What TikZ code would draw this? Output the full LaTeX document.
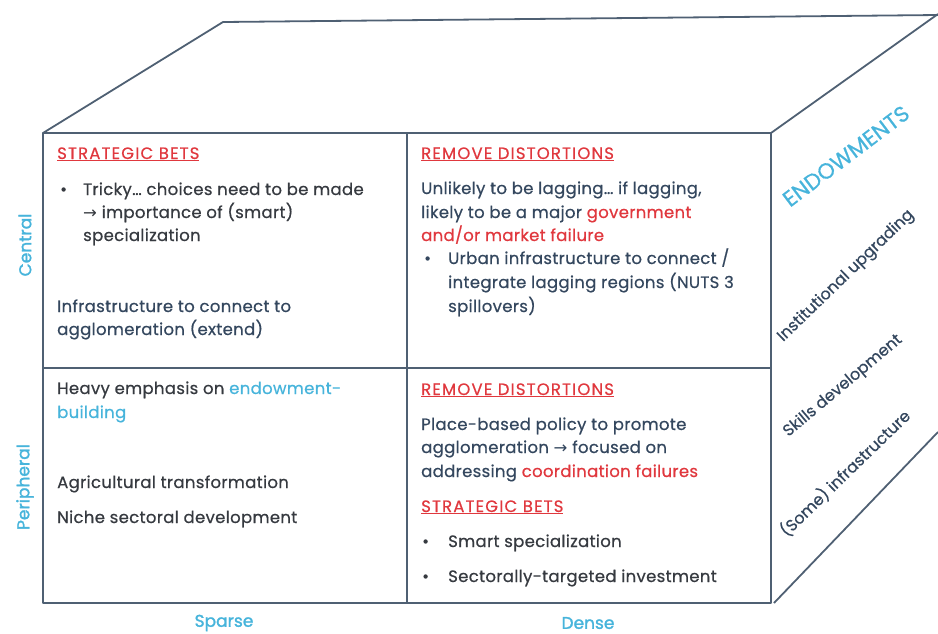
\documentclass[tikz,border=0pt]{standalone}
\usepackage{fontspec}
\setmainfont{Poppins}[FakeBold=0.6,LetterSpace=2]
\newfontfamily\heavyfont{Poppins}[FakeBold=1.6]
\newfontfamily\headfont{Poppins}[FakeBold=0.6,LetterSpace=7]
\newfontfamily\sidefont{Poppins}[FakeBold=0.6]
\newfontfamily\arrowfont{DejaVu Sans}
\definecolor{ink}{HTML}{363A40}
\definecolor{slate}{HTML}{34475E}
\definecolor{hred}{HTML}{E0383E}
\definecolor{hcyan}{HTML}{47B4DB}
\definecolor{edge}{HTML}{4F6073}
\newcommand{\rarr}{{\arrowfont →}}
\begin{document}
\begin{tikzpicture}[x=1pt,y=-1pt,
  txt/.style={anchor=base west, inner sep=0pt, font=\fontsize{16.5}{19}\selectfont, text=ink},
  stxt/.style={txt, text=slate},
  head/.style={anchor=base west, inner sep=0pt, font=\headfont\fontsize{16.5}{19}\selectfont, text=hred},
  axis/.style={inner sep=0pt, font=\heavyfont\fontsize{17}{20}\selectfont, text=hcyan},
  side/.style={inner sep=0pt, font=\sidefont\fontsize{16}{19}\selectfont, text=slate, rotate=44},
  frame/.style={draw=edge, line width=1.8pt, line join=round}]
\useasboundingbox (0,0) rectangle (938,633);
% box
\draw[frame] (43,133) rectangle (771,603);
\draw[frame] (407,133) -- (407,603);
\draw[frame] (43,368) -- (771,368);
\draw[frame] (43,133) -- (223,22) -- (938,15);
\draw[frame] (771,133) -- (938,14);
\draw[frame] (774,603) -- (938,432);
% top-left
\node[head] (a1) at (57,159) {\underline{STRATEGIC BETS}};
\node[txt] (a2b) at (60,195) {•};
\node[txt] (a2) at (83,195) {Tricky… choices need to be made};
\node[txt] (a3) at (83,218) {\rarr\ importance of (smart)};
\node[txt] (a4) at (83,241) {specialization};
\node[stxt] (a5) at (57,312) {Infrastructure to connect to};
\node[stxt] (a6) at (57,335) {agglomeration (extend)};
% top-right
\node[head] (b1) at (421,159) {\underline{REMOVE DISTORTIONS}};
\node[stxt] (b2) at (421,194) {Unlikely to be lagging… if lagging,};
\node[stxt] (b3) at (421,218) {likely to be a major \textcolor{hred}{government}};
\node[stxt, text=hred] (b4) at (421,241) {and/or market failure};
\node[stxt] (b5b) at (424,264) {•};
\node[stxt] (b5) at (448,264) {Urban infrastructure to connect /};
\node[stxt] (b6) at (448,288) {integrate lagging regions (NUTS 3};
\node[stxt] (b7) at (448,312) {spillovers)};
% bottom-left
\node[txt] (c1) at (57,394) {Heavy emphasis on \textcolor{hcyan}{endowment-}};
\node[txt, text=hcyan] (c2) at (57,418) {building};
\node[txt] (c3) at (57,488) {Agricultural transformation};
\node[txt] (c4) at (57,523) {Niche sectoral development};
% bottom-right
\node[head] (d1) at (421,395) {\underline{REMOVE DISTORTIONS}};
\node[stxt] (d2) at (421,430) {Place-based policy to promote};
\node[stxt] (d3) at (421,453) {agglomeration \rarr\ focused on};
\node[stxt] (d4) at (421,477) {addressing \textcolor{hred}{coordination failures}};
\node[head] (d5) at (421,512) {\underline{STRATEGIC BETS}};
\node[txt] (d6b) at (422,547) {•};
\node[txt] (d6) at (448,547) {Smart specialization};
\node[txt] (d7b) at (422,582) {•};
\node[txt] (d7) at (448,582) {Sectorally-targeted investment};
% axes
\node[axis, rotate=90] (central) at (25,245) {Central};
\node[axis, rotate=90] (periph) at (25,487) {Peripheral};
\node[axis] (sparse) at (224,623) {Sparse};
\node[axis] (dense) at (588,623) {Dense};
% right face
\node[inner sep=0pt, font=\sidefont\fontsize{22}{26}\selectfont, text=hcyan, rotate=37] (endow) at (846,156) {ENDOWMENTS};
\node[side] (s1) at (846,276) {Institutional upgrading};
\node[side, rotate=-4] (s2) at (843,386) {Skills development};
\node[side] (s3) at (845,473) {(Some) infrastructure};
\end{tikzpicture}
\end{document}
